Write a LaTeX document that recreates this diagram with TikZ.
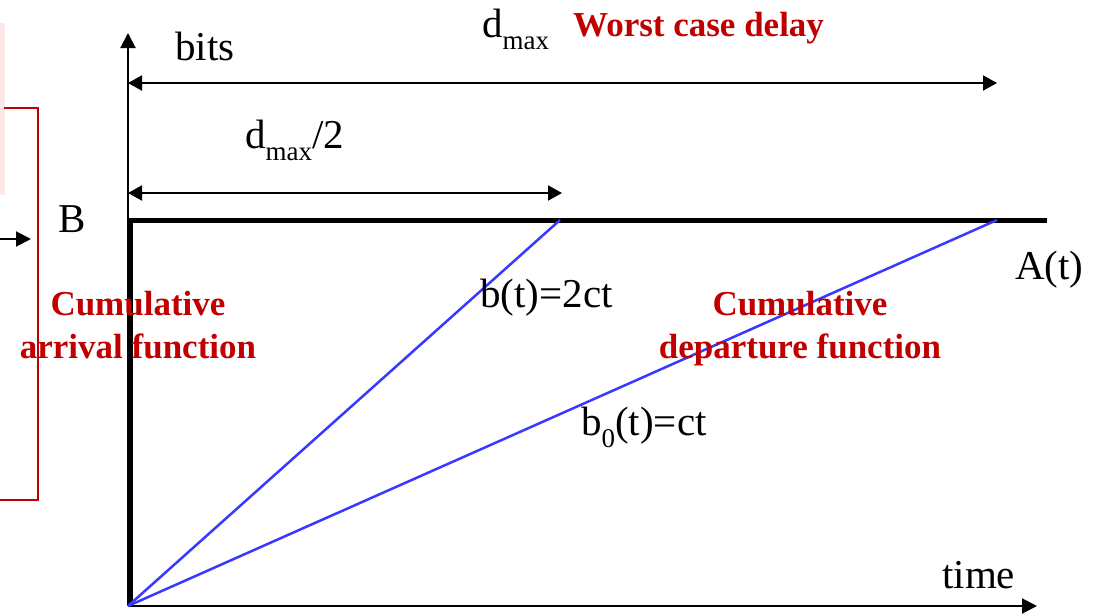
\documentclass[tikz,border=0pt]{standalone}
\usepackage{fontspec}
\setmainfont{Liberation Serif}
\usetikzlibrary{arrows.meta}
\definecolor{darkred}{RGB}{192,0,0}
\definecolor{lineblue}{RGB}{56,56,255}
\definecolor{faintpink}{RGB}{253,232,232}
\newcommand{\mysub}[1]{\raisebox{-0.3em}{\fontsize{27}{30}\selectfont #1}}
\begin{document}
\begin{tikzpicture}[x=1pt,y=-1pt,
  lbl/.style={font=\fontsize{41}{44}\selectfont, inner sep=0pt, anchor=base west},
  rlbl/.style={font=\fontsize{35}{43}\selectfont\bfseries, text=darkred, align=center, inner sep=0pt},
  axisline/.style={line width=2pt, -{Triangle[length=15pt,width=15pt]}},
  dimline/.style={line width=2pt, {Triangle[length=14pt,width=15pt]}-{Triangle[length=14pt,width=15pt]}},
  cumline/.style={line width=5pt, line join=miter},
  rateline/.style={draw=lineblue, line width=2.5pt},
  bracket/.style={draw=darkred, line width=2.5pt}
]
\useasboundingbox (0,0) rectangle (1100,613);
% faint pink patch and red bracket at the left edge
\fill[faintpink] (0,23) rectangle (5,195);
\coordinate (br1) at (4,108);
\coordinate (br2) at (38,108);
\coordinate (br3) at (38,500);
\coordinate (br4) at (0,500);
\draw[bracket] (br1) -- (br2) -- (br3) -- (br4);
\coordinate (sa1) at (0,239);
\coordinate (sa2) at (31,239);
\draw[line width=2pt, -{Triangle[length=15pt,width=15pt]}] (sa1) -- (sa2);
% axes
\coordinate (O) at (128,606);
\coordinate (ytop) at (128,33);
\coordinate (xend) at (1037,606);
\draw[axisline] (O) -- (ytop);
\draw[axisline] (O) -- (xend);
% dimension arrows
\coordinate (d1a) at (128,83);
\coordinate (d1b) at (997,83);
\coordinate (d2a) at (128,193);
\coordinate (d2b) at (562,193);
\draw[dimline] (d1a) -- (d1b);
\draw[dimline] (d2a) -- (d2b);
% cumulative arrival function
\coordinate (c0) at (130,606);
\coordinate (c1) at (130,220);
\coordinate (c2) at (1047,220);
\draw[cumline] (c0) -- (c1) -- (c2);
% rate lines
\coordinate (P1) at (560,220);
\coordinate (P2) at (997,220);
\draw[rateline] (O) -- (P1);
\draw[rateline] (O) -- (P2);
% labels
\node[lbl] (bits) at (175,60) {bits};
\node[lbl] (dmax) at (482,37) {d\mysub{max}};
\node[font=\fontsize{35}{42}\selectfont\bfseries, text=darkred, inner sep=0pt, anchor=base west] (wcd) at (573,36) {Worst case delay};
\node[lbl] (dhalf) at (245,148) {d\mysub{max}/2};
\node[lbl] (B) at (58,232) {B};
\node[lbl] (At) at (1015,279) {A(t)};
\node[lbl] (b2ct) at (480,307) {b(t)=2ct};
\node[lbl] (bct) at (581,435) {b\mysub{0}(t)=ct};
\node[lbl] (time) at (942,588) {time};
\node[rlbl, anchor=north] (arr) at (138,291) {Cumulative\\arrival function};
\node[rlbl, anchor=north] (dep) at (800,291) {Cumulative\\departure function};
\end{tikzpicture}
\end{document}
